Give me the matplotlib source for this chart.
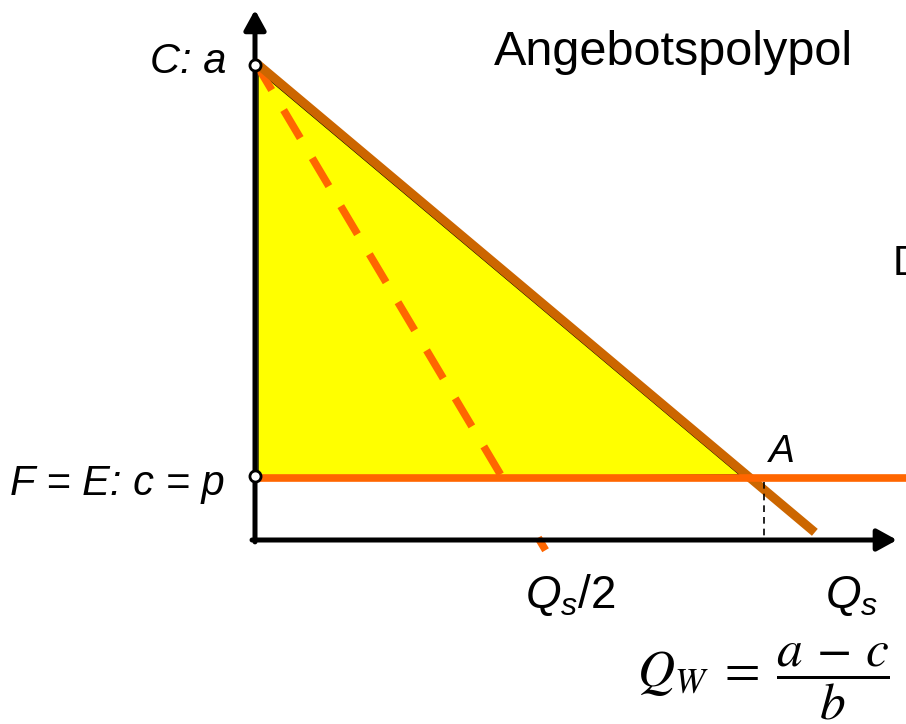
import numpy as np
import matplotlib.pyplot as plt

plt.rcParams['font.family'] = ['Liberation Sans', 'DejaVu Sans']
plt.rcParams['mathtext.fontset'] = 'custom'
plt.rcParams['mathtext.it'] = 'Liberation Sans:italic'
plt.rcParams['mathtext.rm'] = 'Liberation Sans'

# model: inverse demand p = a - b*Q, constant marginal cost c
a = 10.0
c = 1.3
q_w = 10.0
b = (a - c) / q_w
q_demand_end = 11.31
q_drop = 10.28          # dashed drop line down to the quantity axis
q_mr_stub = [5.72, 5.87]  # bit of the MR line peeking out below the axis
q_axis_end = 12.97
p_axis_end = 11.09

# labels
title = 'Angebotspolypol'
label_a = 'C: a'
label_c = 'F = E: c = p'
label_A = 'A'
label_D = 'D'
label_half = r'$Q_s\mathit{/2}$'
label_qs = r'$Q_s$'
formula = r'$Q_W\;=\;\dfrac{a\,-\,c}{b}$'

orange = '#FF6600'
brown = '#CC6600'

fig = plt.figure(figsize=(9.06, 7.24), dpi=100)
ax = fig.add_axes([0, 0, 1, 1])
ax.set_xlim(-255 / 49.5, 651 / 49.5)
ax.set_ylim(-184 / 47.8, 540 / 47.8)
ax.axis('off')

# welfare triangle
q = np.array([0.06, 0.06, q_w - 0.2])
p = np.array([a - 0.17, c, c + 0.06])
ax.fill(q, p, facecolor='#FFFF00', edgecolor='black', lw=1, zorder=1)

# marginal revenue (dashed)
q_mr = np.array([0, q_w / 2])
ax.plot(q_mr, a - 2 * b * q_mr, color=orange, lw=5.5, dashes=(4.27, 3.05),
        solid_capstyle='butt', zorder=2)
q_stub = np.array(q_mr_stub)
ax.plot(q_stub, a - 2 * b * q_stub, color=orange, lw=5.5, solid_capstyle='butt', zorder=2)

# demand
q_d = np.array([0, q_demand_end])
ax.plot(q_d, a - b * q_d, color=brown, lw=6.5, solid_capstyle='butt', zorder=3)

# price = marginal cost
ax.plot([0, 14], [c, c], color=orange, lw=5.5, zorder=4)

# drop line
ax.plot([q_drop, q_drop], [c - 0.08, 0], color='black', lw=1.2, dashes=(4, 3), zorder=4)

# axes with arrows
arrow = dict(arrowstyle='-|>,head_length=0.6,head_width=0.33', color='black',
             lw=3.6, mutation_scale=20, shrinkA=0, shrinkB=0)
ax.annotate('', xy=(q_axis_end, 0), xytext=(-0.06, 0), arrowprops=arrow, zorder=5)
ax.annotate('', xy=(0, p_axis_end), xytext=(0, -0.04), arrowprops=arrow, zorder=5)

# points on the price axis
ax.plot([0, 0], [a - 0.06, c + 0.04], 'o', ms=8, mfc='white', mec='black', mew=2, zorder=6)

# texts
ax.text(4.83, 9.94, title, fontsize=35, ha='left', va='baseline')
ax.text(-0.57, 9.77, label_a, fontsize=30, style='italic', ha='right', va='baseline')
ax.text(-0.61, 0.94, label_c, fontsize=30, style='italic', ha='right', va='baseline')
ax.text(10.38, 1.63, label_A, fontsize=28, style='italic', ha='left', va='baseline')
ax.text(12.89, 5.54, label_D, fontsize=30, ha='left', va='baseline', clip_on=False)
ax.text(5.45, -1.42, label_half, fontsize=33, ha='left', va='baseline')
ax.text(11.52, -1.42, label_qs, fontsize=33, ha='left', va='baseline')
ax.text(12.83, -2.97, formula, fontsize=37, ha='right', va='center', math_fontfamily='stix')

fig.savefig('out.png', dpi=100)
